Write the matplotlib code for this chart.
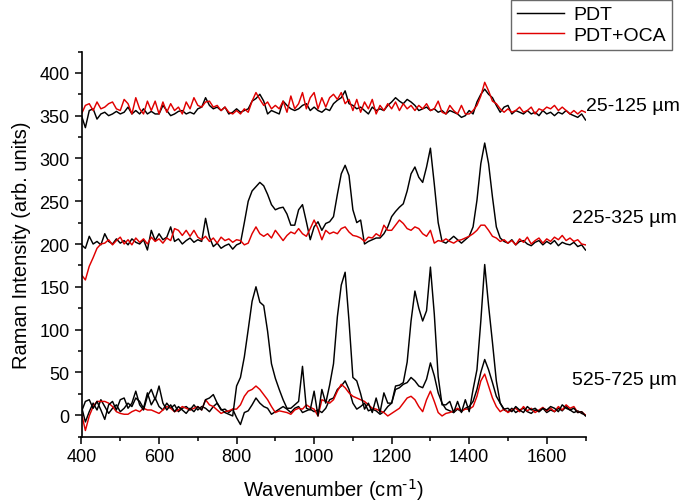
import numpy as np
import matplotlib
matplotlib.use("Agg")
import matplotlib.pyplot as plt
from matplotlib.ticker import MultipleLocator

plt.rcParams['font.family'] = ['Liberation Sans', 'DejaVu Sans']
plt.rcParams['mathtext.default'] = 'regular'

wavenumber = list(range(400, 1701, 10))

top_pdt = [
    350, 336, 356, 358, 346, 352, 354, 350, 352, 355,
    352, 354, 360, 352, 356, 352, 358, 352, 355, 352,
    352, 362, 356, 350, 352, 355, 356, 352, 354, 352,
    358, 360, 371, 362, 358, 360, 356, 360, 352, 354,
    358, 354, 356, 358, 367, 370, 375, 367, 352, 356,
    354, 352, 367, 362, 358, 356, 358, 362, 364, 356,
    360, 356, 354, 358, 356, 364, 368, 371, 379, 364,
    362, 358, 360, 356, 352, 360, 356, 358, 356, 362,
    366, 371, 367, 364, 369, 366, 362, 356, 358, 360,
    356, 358, 354, 356, 352, 356, 354, 352, 348, 350,
    356, 352, 366, 375, 381, 375, 371, 362, 354, 360,
    362, 352, 356, 354, 352, 356, 352, 354, 350, 356,
    352, 354, 350, 354, 352, 356, 352, 350, 348, 352,
    345]

top_oca = [
    352, 362, 364, 356, 366, 358, 360, 364, 366, 358,
    356, 369, 364, 352, 371, 358, 352, 367, 356, 367,
    352, 366, 354, 364, 356, 360, 352, 366, 358, 371,
    362, 360, 366, 367, 360, 362, 356, 360, 354, 352,
    356, 352, 358, 354, 367, 377, 369, 362, 366, 358,
    362, 358, 367, 354, 373, 358, 364, 377, 358, 371,
    377, 358, 371, 360, 371, 375, 369, 377, 364, 369,
    356, 369, 354, 366, 358, 369, 352, 362, 356, 364,
    358, 366, 356, 364, 358, 362, 356, 362, 358, 364,
    356, 358, 367, 354, 352, 362, 356, 352, 362, 352,
    352, 356, 362, 373, 389, 379, 367, 364, 358, 354,
    358, 354, 356, 360, 354, 356, 360, 352, 358, 356,
    360, 358, 362, 356, 360, 356, 352, 356, 352, 356,
    354]

mid_pdt = [
    199, 195, 209, 200, 203, 199, 212, 203, 200, 206,
    201, 204, 199, 206, 202, 200, 205, 193, 216, 204,
    212, 205, 208, 220, 203, 206, 200, 204, 207, 202,
    205, 203, 230, 208, 197, 201, 195, 198, 200, 194,
    199, 201, 225, 250, 262, 267, 272, 268, 258, 246,
    240, 242, 243, 235, 222, 222, 240, 246, 226, 205,
    220, 226, 216, 224, 226, 232, 258, 282, 292, 280,
    240, 225, 228, 200, 203, 205, 207, 207, 212, 220,
    232, 238, 243, 247, 262, 282, 290, 278, 272, 290,
    312, 270, 225, 203, 201, 205, 209, 205, 201, 205,
    209, 220, 251, 294, 318, 294, 255, 220, 207, 203,
    201, 205, 199, 203, 204, 200, 198, 202, 204, 199,
    203, 200, 204, 198, 202, 200, 199, 202, 197, 199,
    193]

mid_oca = [
    164, 158, 174, 184, 195, 200, 201, 205, 199, 204,
    208, 200, 205, 199, 207, 202, 206, 200, 208, 203,
    206, 201, 207, 204, 218, 216, 210, 216, 209, 216,
    208, 205, 209, 203, 207, 201, 208, 204, 206, 202,
    205, 204, 199, 201, 212, 220, 212, 209, 212, 207,
    216, 210, 204, 210, 214, 212, 218, 212, 209, 218,
    228, 218, 205, 216, 212, 214, 212, 218, 220, 214,
    210, 209, 207, 203, 208, 207, 212, 209, 222, 216,
    216, 222, 228, 224, 218, 216, 220, 218, 212, 209,
    216, 201, 204, 203, 206, 203, 201, 204, 205, 207,
    209, 212, 216, 222, 222, 216, 209, 207, 203, 205,
    201, 204, 199, 206, 202, 208, 200, 204, 207, 201,
    206, 203, 208, 205, 210, 204, 207, 203, 205, 200,
    199]

low_pdt_a = [
    4, 16, 18, 8, 16, 6, -5, 12, 16, 6,
    18, 20, 8, 14, 28, 12, 6, 22, 30, 18,
    34, 14, 6, 12, 4, 10, 6, 2, 8, 4,
    10, 6, 18, 20, 24, 14, 7, 3, 1, -1,
    34, 44, 68, 100, 133, 150, 132, 128, 98, 60,
    43, 30, 18, 8, 8, 12, 16, 57, 8, 6,
    28, -1, 30, 14, 35, 60, 115, 152, 167, 110,
    44, 40, 25, 7, 14, 3, 20, 3, 26, 14,
    14, 34, 35, 38, 62, 110, 145, 125, 110, 122,
    173, 118, 45, 12, 12, 16, 3, 16, 3, 18,
    4, 30, 53, 110, 176, 128, 85, 40, 14, 7,
    8, 4, 10, 6, 3, 10, 6, 8, 4, 8,
    6, 10, 8, 4, 12, 8, 6, 8, 3, 4,
    -1]

low_pdt_b = [
    10, -8, 4, 14, 6, 18, 10, 2, 8, 12,
    4, 8, 14, 10, 20, 16, 8, 26, 12, 20,
    10, 6, 14, 8, 12, 4, 8, 10, 6, 12,
    6, 10, 8, 4, 10, 14, 6, 7, 3, 7,
    -3, -11, 3, 5, 12, 20, 14, 10, 8, 1,
    4, 7, 10, 7, 3, 8, 10, 3, 5, 7,
    4, 6, 3, 8, 18, 20, 30, 34, 40, 30,
    14, 7, 10, 14, 5, 7, 5, 1, 4, 10,
    14, 30, 32, 36, 38, 44, 40, 34, 32, 42,
    61, 46, 26, 14, 7, 5, 3, 7, 4, 8,
    10, 16, 30, 50, 65, 53, 38, 22, 14, 6,
    4, 8, 3, 6, 8, 4, 2, 6, 4, 8,
    3, 6, 4, 8, 5, 10, 6, 3, 5, 2,
    0]

low_oca = [
    2, -18, -1, 10, 16, 16, 16, 14, 10, 4,
    2, 1, 1, 4, 6, 4, 8, 6, 6, 4,
    2, 6, 10, 8, 4, 6, 10, 8, 6, 8,
    10, 6, 18, 12, 10, 6, 2, 4, 5, 7,
    7, 12, 22, 28, 30, 34, 30, 24, 18, 10,
    3, 5, 4, 3, 1, 6, 8, 7, 12, 9,
    7, -1, 18, 16, 14, 18, 28, 36, 32, 26,
    22, 20, 18, 16, 12, 8, 7, 5, 3, -1,
    2, 5, 8, 14, 20, 22, 18, 10, 4, 18,
    28, 16, 3, -1, 2, 3, 5, 8, 5, 7,
    7, 10, 22, 40, 48, 34, 20, 10, 4, 7,
    3, 6, 8, 4, 10, 5, 8, 3, 6, 9,
    5, 8, 4, 10, 6, 12, 8, 10, 3, 4,
    0]

depth_labels = ["25-125 µm", "225-325 µm", "525-725 µm"]
legend_labels = ["PDT", "PDT+OCA"]

W, H = 687, 502
fig = plt.figure(figsize=(W / 100, H / 100), dpi=100)
ax = fig.add_axes([81.5 / W, 1 - 437.5 / H, 504 / W, 385 / H])

lw = 1.05
black, red = "#000000", "#e00000"
ln1, = ax.plot(wavenumber, top_pdt, color=black, lw=lw)
ln2, = ax.plot(wavenumber, top_oca, color=red, lw=lw)
ax.plot(wavenumber, mid_pdt, color=black, lw=lw)
ax.plot(wavenumber, mid_oca, color=red, lw=lw)
ax.plot(wavenumber, low_pdt_b, color=black, lw=lw)
ax.plot(wavenumber, low_oca, color=red, lw=lw)
ax.plot(wavenumber, low_pdt_a, color=black, lw=lw)

ax.set_xlim(400, 1700)
ax.set_ylim(-25, 425)
ax.xaxis.set_major_locator(MultipleLocator(200))
ax.xaxis.set_minor_locator(MultipleLocator(100))
ax.yaxis.set_major_locator(MultipleLocator(50))
ax.yaxis.set_minor_locator(MultipleLocator(25))
for s in ["top", "right"]:
    ax.spines[s].set_visible(False)
for s in ["left", "bottom"]:
    ax.spines[s].set_linewidth(1.2)
ax.tick_params(which="major", direction="out", length=5, width=1.1, labelsize=13)
ax.tick_params(which="minor", direction="out", length=3, width=1.1)

ax.set_xlabel(r"Wavenumber (cm$^{\text{-1}}$)", fontsize=14.5, labelpad=8)
ax.set_ylabel("Raman Intensity (arb. units)", fontsize=14.5, labelpad=6)

ax.text(1702, 362, depth_labels[0], fontsize=14, va="center", ha="left", clip_on=False)
ax.text(1665, 231, depth_labels[1], fontsize=14, va="center", ha="left", clip_on=False)
ax.text(1665, 42, depth_labels[2], fontsize=14, va="center", ha="left", clip_on=False)

leg = fig.legend([ln1, ln2], legend_labels, loc="upper right",
                 bbox_to_anchor=(672 / W, 1 - 1 / H), fontsize=14,
                 frameon=True, fancybox=False, borderaxespad=0,
                 handlelength=2.4, handletextpad=0.5, borderpad=0.3,
                 labelspacing=0.15)
leg.get_frame().set_edgecolor("#444444")
leg.get_frame().set_linewidth(1.0)

fig.savefig("out.png", dpi=100)
